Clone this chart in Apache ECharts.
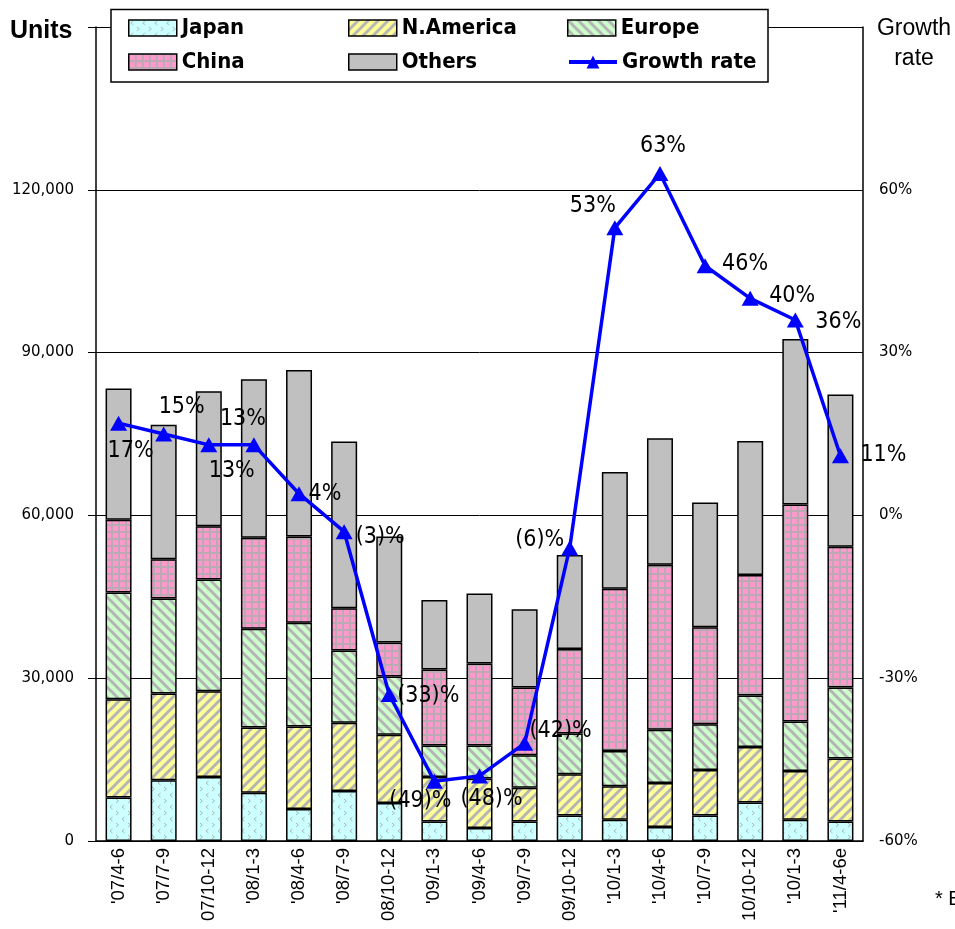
<!DOCTYPE html>
<html>
<head>
<meta charset="utf-8">
<script src="https://cdn.jsdelivr.net/npm/echarts@6/dist/echarts.min.js"></script>
<style>
  html, body { margin: 0; padding: 0; background: #fff; }
  #chart { width: 955px; height: 929px; }
</style>
</head>
<body>
<div id="chart"></div>
<script>
// Quarterly shipments by region (units) and year-on-year growth rate (%)
const quarters = ["'07/4-6", "'07/7-9", "07/10-12", "'08/1-3", "'08/4-6", "'08/7-9", "08/10-12",
  "'09/1-3", "'09/4-6", "'09/7-9", "09/10-12", "'10/1-3", "'10/4-6", "'10/7-9", "10/10-12",
  "'10/1-3", "'11/4-6e"];
const japan    = [8000, 11200, 11800, 8900, 5900, 9200, 7000, 3600, 2400, 3600, 4700, 3900, 2600, 4700, 7100, 3900, 3600];
const nAmerica = [18100, 16000, 15800, 12000, 15200, 12600, 12600, 8200, 9100, 6200, 7600, 6200, 8100, 8400, 10200, 9000, 11600];
const europe   = [19700, 17500, 20600, 18200, 19100, 13300, 10700, 5800, 6100, 6000, 7500, 6500, 9800, 8400, 9500, 9100, 13100];
const china    = [13400, 7200, 9800, 16800, 15900, 7800, 6300, 14000, 15100, 12500, 15600, 29900, 30400, 17900, 22200, 40000, 25900];
const others   = [24200, 24800, 24900, 29200, 30700, 30700, 19500, 12800, 12900, 14400, 17300, 21500, 23300, 23000, 24700, 30500, 28100];
const growthRate = [17, 15, 13, 13, 4, -3, -33, -49, -48, -42, -6, 53, 63, 46, 40, 36, 11];

// Where each growth label sits relative to its marker (px)
const labelOffsets = [[12, 28], [18, -27], [23, 26], [-11, -26], [26, 0], [36, 5], [39, 2], [-14, 20],
  [12, 23], [36, -12], [-30, -8], [-22, -22], [3, -27], [40, -2], [42, -2], [43, 2], [43, -1]];

const NARROW = '"DejaVu Sans Condensed", "Liberation Sans Narrow", sans-serif';

// Small repeating tiles used as fill patterns
function tile(size, draw) {
  const c = document.createElement('canvas');
  c.width = size; c.height = size;
  draw(c.getContext('2d'), size);
  return c;
}
const japanTile = tile(12, (g, s) => {
  g.fillStyle = '#CCFFFF'; g.fillRect(0, 0, s, s);
  g.strokeStyle = '#A9B9B9'; g.lineWidth = 1;
  g.beginPath(); g.moveTo(4.5, 1); g.lineTo(2, 3); g.lineTo(4.5, 5); g.stroke();
  g.beginPath(); g.moveTo(8, 7); g.lineTo(10.5, 9); g.lineTo(8, 11); g.stroke();
});
function stripeTile(bg, dir) {
  return tile(10, (g, s) => {
    g.fillStyle = bg; g.fillRect(0, 0, s, s);
    g.strokeStyle = '#B4B4B4'; g.lineWidth = 3;
    const segs = dir > 0
      ? [[0, s, s, 0], [-s / 2, s / 2, s / 2, -s / 2], [s / 2, s * 1.5, s * 1.5, s / 2]]
      : [[0, 0, s, s], [-s / 2, s / 2, s / 2, s * 1.5], [s / 2, -s / 2, s * 1.5, s / 2]];
    segs.forEach(([a, b, c, d]) => { g.beginPath(); g.moveTo(a, b); g.lineTo(c, d); g.stroke(); });
  });
}
const naTile = stripeTile('#FFFF99', 1);
const euTile = stripeTile('#CCFFCC', -1);
const chinaTile = tile(7, (g, s) => {
  g.fillStyle = '#BBAAB3'; g.fillRect(0, 0, s, s);
  g.fillStyle = '#FF99CC'; g.fillRect(1, 1, 5, 5);
});

const pat = (t) => ({ image: t, repeat: 'repeat' });

function barSeries(name, data, fill) {
  return {
    name, type: 'bar', stack: 'total', data, barWidth: 26,
    itemStyle: { color: fill, borderColor: '#000', borderWidth: 1.5 },
    emphasis: { disabled: true }
  };
}

const fmtRate = (v) => (v < 0 ? '(' + (-v) + ')%' : v + '%');

const legendText = { fontFamily: NARROW, fontWeight: 'bold', fontSize: 22, lineHeight: 30, color: '#000' };
function legendAt(name, left, top, isLine) {
  const l = {
    data: [name], left, top, padding: 0, itemWidth: 48, itemHeight: 16, itemGap: 0,
    textStyle: legendText, selectedMode: false
  };
  if (isLine) {
    l.lineStyle = { width: 4, color: '#0000FF' };
    l.itemStyle = { color: '#0000FF' };
  } else {
    l.icon = 'rect';
    l.itemStyle = { borderColor: '#000', borderWidth: 1.5 };
  }
  return l;
}

const option = {
  animation: false,
  backgroundColor: '#fff',
  grid: { left: 96, right: 92, top: 27, bottom: 88, containLabel: false },
  legend: [
    legendAt('Japan', 128, 13), legendAt('N.America', 348, 13), legendAt('Europe', 567, 13),
    legendAt('China', 128, 47), legendAt('Others', 348, 47), legendAt('Growth rate', 567, 47, true)
  ],
  xAxis: {
    type: 'category', data: quarters, boundaryGap: true,
    axisLine: { lineStyle: { color: '#000', width: 1.5 } },
    axisTick: { inside: true, length: 6, lineStyle: { color: '#000' } },
    axisLabel: { rotate: 90, margin: 7, color: '#000', fontFamily: '"Liberation Sans", Arial, sans-serif', fontSize: 18.5, interval: 0 }
  },
  yAxis: [
    {
      type: 'value', min: 0, max: 150000, interval: 30000,
      axisLine: { show: true, lineStyle: { color: '#000', width: 1.5 } },
      axisTick: { show: true, inside: false, length: 8, lineStyle: { color: '#000' } },
      splitLine: { show: true, lineStyle: { color: '#000', width: 1 } },
      axisLabel: {
        margin: 22, color: '#000', fontFamily: '"DejaVu Sans", sans-serif', fontSize: 15,
        formatter: (v) => (v >= 150000 ? '' : v.toLocaleString('en-US'))
      }
    },
    {
      type: 'value', min: -60, max: 90, interval: 30, position: 'right',
      axisLine: { show: true, lineStyle: { color: '#000', width: 1.5 } },
      axisTick: { show: false },
      splitLine: { show: false },
      axisLabel: {
        margin: 16, color: '#000', fontFamily: '"DejaVu Sans", sans-serif', fontSize: 15,
        formatter: (v) => (v >= 90 ? '' : v + '%')
      }
    }
  ],
  series: [
    barSeries('Japan', japan, pat(japanTile)),
    barSeries('N.America', nAmerica, pat(naTile)),
    barSeries('Europe', europe, pat(euTile)),
    barSeries('China', china, pat(chinaTile)),
    barSeries('Others', others, '#C0C0C0'),
    {
      name: 'Growth rate', type: 'line', yAxisIndex: 1, z: 10,
      data: growthRate.map((v, i) => ({
        value: v,
        label: { offset: labelOffsets[i] }
      })),
      color: '#0000FF',
      lineStyle: { color: '#0000FF', width: 3.5 },
      symbol: 'triangle', symbolSize: [17, 15],
      itemStyle: { color: '#0000FF' },
      label: {
        show: true, position: 'inside', align: 'center', verticalAlign: 'middle',
        color: '#000', fontFamily: NARROW, fontSize: 23,
        formatter: (p) => fmtRate(p.value)
      },
      emphasis: { disabled: true }
    }
  ],
  graphic: [
    {
      type: 'rect', z: 3, shape: { x: 111, y: 9.5, width: 657, height: 72.5 },
      style: { fill: '#fff', stroke: '#000', lineWidth: 1.5 }
    },
    {
      type: 'text', left: 10, top: 19,
      style: { text: 'Units', fill: '#000', font: 'bold 25px "Liberation Sans", Arial, sans-serif' }
    },
    {
      type: 'text', x: 914, y: 14,
      style: { text: 'Growth\nrate', fill: '#000', align: 'center', lineHeight: 30,
        font: '23px "Liberation Sans", Arial, sans-serif' }
    },
    {
      type: 'text', x: 935, y: 889,
      style: { text: '* Estimate', fill: '#000', font: '20px "Liberation Sans", Arial, sans-serif' }
    }
  ]
};

const chart = echarts.init(document.getElementById('chart'), null, { renderer: 'canvas' });
chart.setOption(option);
</script>
</body>
</html>
